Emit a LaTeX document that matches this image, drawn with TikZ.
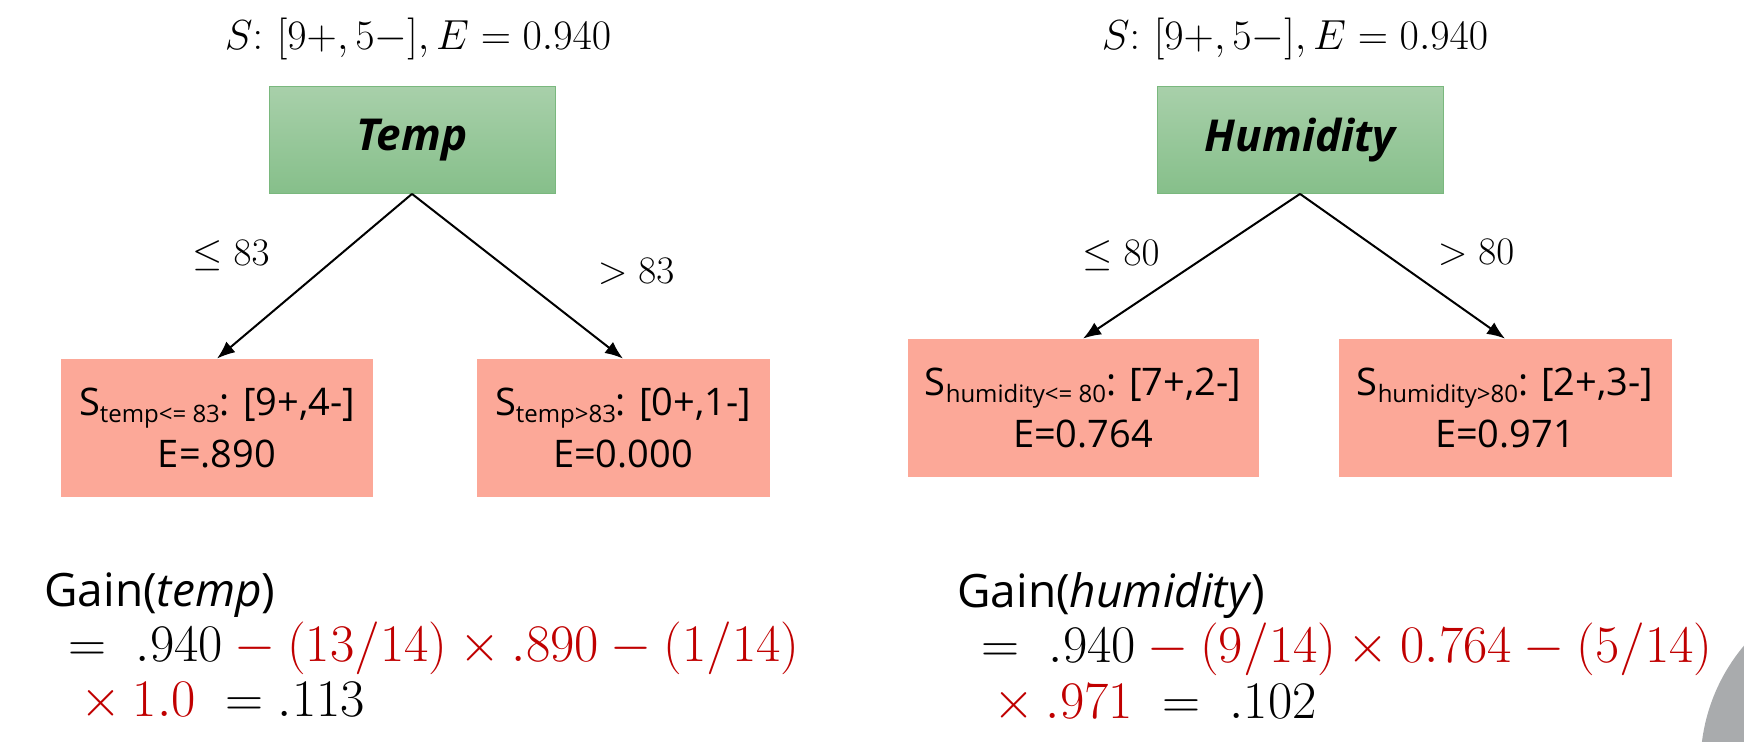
\RequirePackage{fix-cm}
\documentclass[tikz,border=0pt]{standalone}
\usepackage[no-math]{fontspec}
\setmainfont{Open Sans}
\usetikzlibrary{arrows.meta}

\definecolor{splittop}{HTML}{A8D0AA}
\definecolor{splitbot}{HTML}{86BF8A}
\definecolor{splitedge}{HTML}{7AB87E}
\definecolor{leaffill}{HTML}{FCA898}
\definecolor{gainred}{HTML}{C00000}
\definecolor{slidegray}{HTML}{A9ABAD}

\newcommand{\lowtxt}[1]{\raisebox{-0.35ex}{\fontsize{12}{12}\selectfont #1}}
\newcommand{\mathline}[1]{{\fontsize{26.4}{27.5}\selectfont #1}}

\tikzset{
  split/.style={draw=splitedge, top color=splittop, bottom color=splitbot,
    minimum width=143pt, minimum height=53.5pt,
    font=\fontsize{22}{26}\selectfont\bfseries\itshape},
  leaf/.style={fill=leaffill, minimum height=69pt, align=center,
    font=\fontsize{19}{26}\selectfont},
  branch/.style={-{Latex[length=9pt,width=7pt]}, line width=1pt},
  cond/.style={font=\fontsize{19.5}{19.5}\selectfont},
  setlabel/.style={font=\fontsize{21}{21}\selectfont},
  gain/.style={anchor=north west, align=left, inner sep=0pt,
    font=\fontsize{23}{27.7}\selectfont}
}

\begin{document}
\begin{tikzpicture}[x=0.5pt,y=-0.5pt]
    \useasboundingbox (0,0) rectangle (1744,742);
    \begin{scope}
      \clip (0,0) rectangle (1744,742);
      \fill[slidegray] (1886,765) circle[radius=92.75pt];
    \end{scope}

    % temp split
    \node[setlabel] (tempset) at (418,39) {$S\colon\,[9+,5-],E = 0.940$};
    \node[split] (temp) at (412,140) {Temp};
    \node[leaf, minimum width=156pt] (templo) at (217,428)
      {S\lowtxt{temp<= 83}: [9+,4-]\\E=.890};
    \node[leaf, minimum width=146.5pt] (temphi) at (623,428)
      {S\lowtxt{temp>83}: [0+,1-]\\E=0.000};
    \draw[branch] (temp.south) -- (templo.north);
    \draw[branch] (temp.south) -- (temphi.north);
    \node[cond] (templocond) at (231,256) {$\leq 83$};
    \node[cond] (temphicond) at (636,271) {$> 83$};
    \node[gain] (tempgain) at (44,572) {Gain(\textit{temp})\\
      \hspace*{12pt}\mathline{$=\;.940\color{gainred}-(13/14)\times .890-(1/14)$}\\
      \hspace*{12pt}\mathline{$\color{gainred}{}\times 1.0$\;\;$=.113$}};

    % humidity split
    \node[setlabel] (humset) at (1295,39) {$S\colon\,[9+,5-],E = 0.940$};
    \node[split] (hum) at (1300,140) {Humidity};
    \node[leaf, minimum width=175.5pt] (humlo) at (1083,408)
      {S\lowtxt{humidity<= 80}: [7+,2-]\\E=0.764};
    \node[leaf, minimum width=166.5pt] (humhi) at (1505,408)
      {S\lowtxt{humidity>80}: [2+,3-]\\E=0.971};
    \draw[branch] (hum.south) -- (humlo.north);
    \draw[branch] (hum.south) -- (humhi.north);
    \node[cond] (humlocond) at (1121,256) {$\leq 80$};
    \node[cond] (humhicond) at (1476,252) {$> 80$};
    \node[gain] (humgain) at (957,572) {Gain(\textit{humidity})\\
      \hspace*{12pt}\mathline{$=\;.940\color{gainred}-(9/14)\times 0.764-(5/14)$}\\
      \hspace*{12pt}\mathline{$\color{gainred}{}\times .971$\;\;$=\;.102$}};
  \end{tikzpicture}
\end{document}
